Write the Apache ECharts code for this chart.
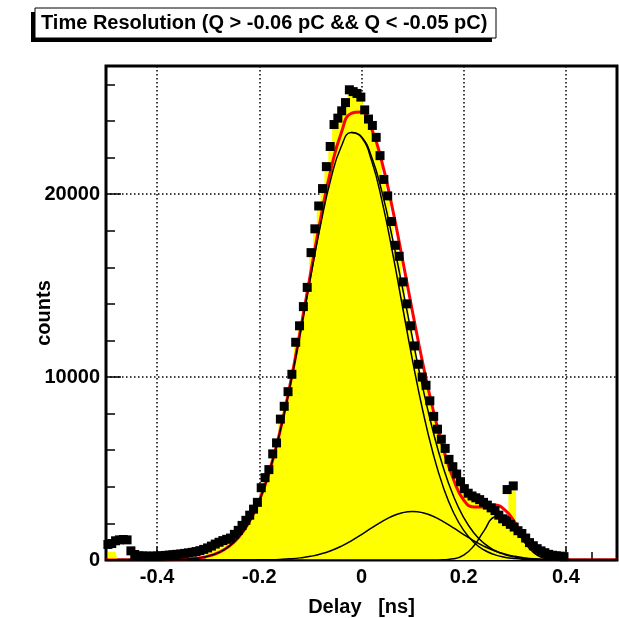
<!DOCTYPE html>
<html><head><meta charset="utf-8">
<script src="https://cdn.jsdelivr.net/npm/echarts@6/dist/echarts.min.js"></script>
<style>html,body{margin:0;padding:0;background:#fff}#c{width:619px;height:618px}</style>
</head><body><div id="c"></div>
<script>
// Histogram bins (centers = binStart + i*binWidth)
const binStart = -0.49625;
const binWidth = 0.0075;
const counts = [
  850, 900, 1050, 1100, 1120, 1100, 500, 300, 230, 220,
  210, 210, 210, 220, 230, 250, 270, 290, 310, 330,
  360, 390, 420, 460, 510, 580, 660, 760, 870, 970,
  1060, 1130, 1200, 1400, 1620, 1890, 2170, 2450, 2780, 3150,
  3950, 4500, 4940, 5800, 6400, 7700, 8400, 9200, 10150, 11900,
  12800, 13850, 14900, 16800, 18100, 19350, 20300, 21500, 22600, 23800,
  24150, 24550, 25000, 25700, 25600, 25500, 25300, 24600, 24100, 23750,
  23100, 22100, 20800, 19900, 18500, 17200, 16600, 15200, 14000, 12800,
  11700, 10700, 10000, 9550, 8700, 7850, 7150, 6600, 6100, 5500,
  5100, 4700, 4280, 3900, 3650, 3500, 3400, 3300, 3150, 3000,
  2850, 2700, 2450, 2250, 2100, 1950, 1800, 1600, 1450, 1200,
  950, 780, 620, 500, 400, 310, 260, 230, 210, 180,
  null, null, null, null, null, null, null, null, null, null,
  null, null, null
];
const fillCounts = [
  450, 450, 450, 0, 0, 0, 0, 0, 0, 0,
  0, 0, 0, 0, 0, 0, 0, 0, 0, 0,
  0, 0, 0, 0, 0, 0, 660, 760, 870, 970,
  1060, 1130, 1200, 1400, 1620, 1890, 2170, 2450, 2780, 3150,
  3950, 4500, 4940, 5800, 6400, 7700, 8400, 9200, 10150, 11900,
  12800, 13850, 14900, 16800, 18100, 19350, 20300, 21500, 22600, 23800,
  24150, 24550, 25000, 25700, 25600, 25500, 25300, 24600, 24100, 23750,
  23100, 22100, 20800, 19900, 18500, 17200, 16600, 15200, 14000, 12800,
  11700, 10700, 10000, 9550, 8700, 7850, 7150, 6600, 6100, 5500,
  5100, 4700, 4280, 3900, 3650, 3500, 3400, 3300, 3150, 3000,
  2850, 2700, 2450, 2250, 2100, 3800, 3800, 1600, 1450, 1200,
  950, 780, 620, 500, 400, 310, 260, 230, 210, 180,
  0, 0, 0, 0, 0, 0, 0, 0, 0, 0,
  0, 0, 0
];
const spikeX = [0.285, 0.297];
const spikeCounts = [3850, 4050];

// Fit curves sampled at fitStart + k*fitStep
const fitStart = -0.5;
const fitStep = 0.02;
const fitTotal = [
  0, 0, 0, 0, 1, 4, 11, 24, 52, 108,
  213, 404, 728, 1256, 2066, 3242, 4866, 6977, 9548, 12490,
  15611, 18656, 21321, 23316, 24411, 24485, 23553, 21744, 19297, 16466,
  13538, 10740, 8226, 6094, 4414, 3271, 2900, 2900, 3000, 2750,
  2057, 1075, 419, 129, 36, 11, 4, 2, 1, 0, 0
];
const fitMain = [
  0, 0, 0, 0, 1, 4, 11, 24, 52, 108,
  213, 404, 728, 1254, 2062, 3234, 4849, 6943, 9484, 12374,
  15411, 18329, 20814, 22569, 23365, 23096, 21800, 19644, 16907, 13883,
  10888, 8157, 5836, 3983, 2597, 1617, 961, 546, 296, 153,
  76, 37, 17, 7, 3, 1, 0, 0, 0, 0, 0
];
const fitMainAlt = [
  null, null, null, null, null, null, null, null, null, null,
  null, null, null, null, null, null, null, null, null, null,
  null, null, null, null, 23365, 23138, 22010, 20117, 17663, 14903,
  12081, 9408, 7039, 5061, 3496, 2320, 1479, 906, 533, 301,
  164, 86, 44, 22, 10, 5, 2, 1, 0, 0, 0
];
const fitShoulder = [
  0, 0, 0, 0, 0, 0, 0, 0, 0, 0,
  0, 0, 0, 2, 4, 8, 17, 34, 64, 116,
  200, 327, 507, 747, 1046, 1389, 1753, 2100, 2390, 2583,
  2650, 2583, 2390, 2100, 1753, 1389, 1046, 747, 507, 327,
  200, 116, 64, 34, 17, 8, 4, 2, 1, 0, 0
];
const fitTail = [
  0, 0, 0, 0, 0, 0, 0, 0, 0, 0,
  0, 0, 0, 0, 0, 0, 0, 0, 0, 0,
  0, 0, 0, 0, 0, 0, 0, 0, 0, 0,
  0, 0, 0, 11, 64, 265, 777, 1605, 2349, 2432,
  1781, 922, 338, 88, 16, 2, 0, 0, 0, 0, 0
];

// Axis ticks
const xMajorTicks = [-0.4, -0.2, 0, 0.2, 0.4];
const yMajorTicks = [0, 10000, 20000];
const titleText = 'Time Resolution (Q > -0.06 pC && Q < -0.05 pC)';
const xTitle = 'Delay   [ns]';
const yTitle = 'counts';

const FONT = "'Liberation Sans', Arial, Helvetica, sans-serif";
const binPairs = (arr) => arr.map((v, i) => [binStart + i * binWidth, v]).filter(p => p[1] !== null);
const fitPairs = (arr) => arr.map((v, k) => [fitStart + k * fitStep, v]).filter(p => p[1] !== null);

const chart = echarts.init(document.getElementById('c'), null, {renderer: 'canvas'});
const labelStyle = {color: '#000', fontSize: 20, fontWeight: 'bold', fontFamily: FONT};
const dotted = {color: '#000', width: 1.5, type: [1.5, 2.5]};

chart.setOption({
  animation: false,
  backgroundColor: '#fff',
  graphic: [
    {type: 'rect', shape: {x: 31, y: 12, width: 461, height: 30}, style: {fill: '#000'}, z: 10},
    {type: 'rect', shape: {x: 35, y: 8, width: 461, height: 30}, style: {fill: '#fff', stroke: '#000', lineWidth: 1}, z: 11},
    {type: 'text', x: 41, y: 23, style: {text: titleText, fill: '#000', font: 'bold 20px ' + FONT, textVerticalAlign: 'middle', verticalAlign: 'middle'}, z: 12}
  ],
  grid: {left: 106, right: 2, top: 66, bottom: 58, show: true, borderColor: '#000', borderWidth: 3, backgroundColor: '#fff',
         containLabel: false, outerBoundsMode: 'none'},
  xAxis: [
    {
      type: 'value', min: -0.5, max: 0.5, position: 'bottom',
      name: xTitle, nameLocation: 'middle', nameGap: 37, nameMoveOverlap: false,
      nameTextStyle: labelStyle,
      axisLine: {show: false, onZero: false},
      axisTick: {show: true, inside: true, length: 13, customValues: xMajorTicks, lineStyle: {color: '#000', width: 1.5}},
      axisLabel: Object.assign({customValues: xMajorTicks, margin: 7}, labelStyle),
      splitLine: {show: true, lineStyle: dotted}
    },
    {
      type: 'value', min: -0.5, max: 0.5, interval: 0.05, position: 'bottom',
      axisLine: {show: false, onZero: false},
      axisTick: {show: true, inside: true, length: 8, lineStyle: {color: '#000', width: 1.5}},
      axisLabel: {show: false},
      splitLine: {show: false}
    }
  ],
  yAxis: [
    {
      type: 'value', min: 0, max: 27000, position: 'left',
      name: yTitle, nameLocation: 'middle', nameGap: 52, nameRotate: 90, nameMoveOverlap: false,
      nameTextStyle: labelStyle,
      axisLine: {show: false, onZero: false},
      axisTick: {show: true, inside: true, length: 15, customValues: yMajorTicks, lineStyle: {color: '#000', width: 1.5}},
      axisLabel: Object.assign({customValues: yMajorTicks, margin: 6, formatter: (v) => String(v)}, labelStyle),
      splitLine: {show: true, lineStyle: dotted}
    },
    {
      type: 'value', min: 0, max: 27000, interval: 2000, position: 'left',
      axisLine: {show: false, onZero: false},
      axisTick: {show: true, inside: true, length: 9, lineStyle: {color: '#000', width: 1.5}},
      axisLabel: {show: false},
      splitLine: {show: false}
    }
  ],
  series: [
    {
      type: 'line', name: 'hist', xAxisIndex: 0, yAxisIndex: 0,
      data: binPairs(fillCounts), step: 'middle', showSymbol: false,
      lineStyle: {width: 0, color: '#ffff00'}, areaStyle: {color: '#ffff00', opacity: 1},
      z: 2, silent: true
    },
    {
      type: 'line', name: 'total', xAxisIndex: 0, yAxisIndex: 0, clip: false,
      data: fitPairs(fitTotal), smooth: true, showSymbol: false,
      lineStyle: {width: 3, color: '#ff0000'}, z: 3, silent: true
    },
    {
      type: 'line', name: 'main', data: fitPairs(fitMain), smooth: true, showSymbol: false,
      lineStyle: {width: 1.5, color: '#000'}, z: 4, silent: true
    },
    {
      type: 'line', name: 'mainAlt', data: fitPairs(fitMainAlt), smooth: true, showSymbol: false,
      lineStyle: {width: 1.5, color: '#000'}, z: 4, silent: true
    },
    {
      type: 'line', name: 'shoulder', data: fitPairs(fitShoulder), smooth: true, showSymbol: false,
      lineStyle: {width: 1.5, color: '#000'}, z: 4, silent: true
    },
    {
      type: 'line', name: 'tail', data: fitPairs(fitTail), smooth: true, showSymbol: false,
      lineStyle: {width: 1.5, color: '#000'}, z: 4, silent: true
    },
    {
      type: 'scatter', name: 'data', data: binPairs(counts), symbol: 'rect', symbolSize: 9,
      itemStyle: {color: '#000', opacity: 1}, z: 5, silent: true
    },
    {
      type: 'scatter', name: 'spike', data: spikeX.map((x, i) => [x, spikeCounts[i]]), symbol: 'rect', symbolSize: 9,
      itemStyle: {color: '#000', opacity: 1}, z: 5, silent: true
    }
  ]
});
</script>
</body></html>
